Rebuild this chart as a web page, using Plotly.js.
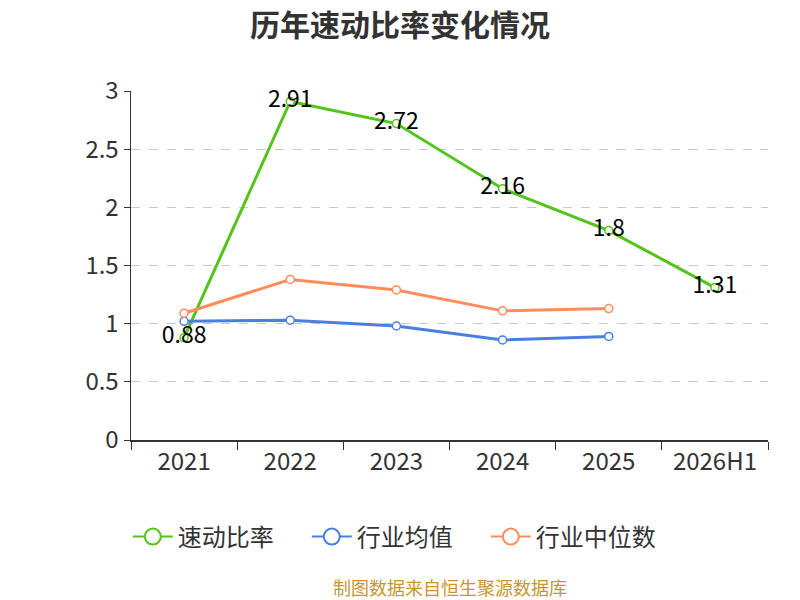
<!DOCTYPE html>
<html>
<head>
<meta charset="utf-8">
<script src="https://cdn.plot.ly/plotly-3.0.1.min.js"></script>
<style>
  html, body { margin: 0; padding: 0; background: #fff; }
  #chart { width: 800px; height: 600px; }
</style>
</head>
<body>
<div id="chart"></div>
<script>
const years = ["2021", "2022", "2023", "2024", "2025", "2026H1"];
const quickRatio = [0.88, 2.91, 2.72, 2.16, 1.8, 1.31];
const industryAvg = [1.02, 1.03, 0.98, 0.86, 0.89];
const industryMedian = [1.09, 1.38, 1.29, 1.11, 1.13];

const seriesNames = ["速动比率", "行业均值", "行业中位数"];
const seriesColors = ["#52c41a", "#4a7fe0", "#ff8c5a"];

const font = '"Noto Sans CJK SC", "Noto Sans", sans-serif';

function series(i, y, labels) {
  return {
    x: years.slice(0, y.length),
    y: y,
    name: seriesNames[i],
    type: "scatter",
    mode: labels ? "lines+markers+text" : "lines+markers",
    text: labels ? y.map(String) : undefined,
    textposition: "middle center",
    textfont: { family: font, size: 23, color: "#000" },
    line: { color: seriesColors[i], width: 3 },
    marker: { symbol: "circle", size: 8, color: "#fff", line: { color: seriesColors[i], width: 1.5 } },
    cliponaxis: false,
    showlegend: false,
  };
}

// legend-only entries with bigger hollow circles
function legendEntry(i) {
  return {
    x: [null],
    y: [null],
    name: seriesNames[i],
    type: "scatter",
    mode: "lines+markers",
    line: { color: seriesColors[i], width: 2 },
    marker: { symbol: "circle", size: 16, color: "#fff", line: { color: seriesColors[i], width: 2 } },
  };
}

const data = [
  series(0, quickRatio, true),
  series(1, industryAvg, false),
  series(2, industryMedian, false),
  legendEntry(0),
  legendEntry(1),
  legendEntry(2),
];

const layout = {
  width: 800,
  height: 600,
  margin: { l: 131, r: 32, t: 91, b: 160 },
  paper_bgcolor: "#fff",
  plot_bgcolor: "#fff",
  font: { family: font, color: "#333" },
  title: {
    text: "<b>历年速动比率变化情况</b>",
    font: { family: font, size: 30, color: "#333" },
    x: 0.5, xanchor: "center", y: 0.958, yanchor: "middle",
  },
  xaxis: {
    type: "category",
    tickson: "boundaries",
    ticks: "outside",
    ticklen: 8,
    tickcolor: "#333",
    showline: true,
    linecolor: "#333",
    linewidth: 1.5,
    showgrid: false,
    tickfont: { size: 24, color: "#333" },
    range: [-0.5, 5.5],
    fixedrange: true,
  },
  yaxis: {
    range: [0, 3],
    dtick: 0.5,
    ticks: "outside",
    ticklen: 6,
    tickcolor: "#333",
    showline: true,
    linecolor: "#333",
    linewidth: 1.5,
    showgrid: true,
    gridcolor: "#c8c8c8",
    griddash: "dash",
    zeroline: false,
    tickfont: { size: 24, color: "#333" },
    fixedrange: true,
  },
  showlegend: true,
  legend: {
    orientation: "h",
    x: -0.005, xanchor: "left",
    y: -0.278, yanchor: "middle",
    font: { size: 24, color: "#333" },
    entrywidth: 124,
    entrywidthmode: "pixels",
    itemwidth: 40,
  },
  annotations: [{
    text: "制图数据来自恒生聚源数据库",
    xref: "paper", yref: "paper",
    x: 0.5, xanchor: "center",
    y: -0.42, yanchor: "middle",
    showarrow: false,
    font: { family: font, size: 18, color: "#c8962c" },
  }],
};

Plotly.newPlot("chart", data, layout, { displayModeBar: false, staticPlot: true });
</script>
</body>
</html>
